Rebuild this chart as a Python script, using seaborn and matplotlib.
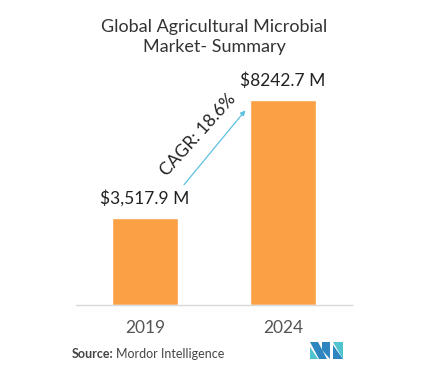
import matplotlib
matplotlib.use("Agg")
import matplotlib.pyplot as plt
import seaborn as sns
import pandas as pd
from matplotlib.patches import Polygon

years = ["2019", "2024"]
values = [3517.9, 8242.7]
value_labels = ["$3,517.9 M", "$8242.7 M"]
cagr_label = "CAGR: 18.6%"
title = "Global Agricultural Microbial\nMarket- Summary"

sns.set_theme(style="white")
plt.rcParams["font.family"] = ["Lato", "DejaVu Sans"]

df = pd.DataFrame({"year": years, "value": values})

fig = plt.figure(figsize=(4.29, 3.87), dpi=100)
ax = fig.add_axes([76/429, (387-305)/387, 276/429, 248.7/387])
sns.barplot(data=df, x="year", y="value", color="#FBA044", width=0.48,
            saturation=1, ax=ax)
ax.set_xlim(-0.5, 1.5)
ax.set_ylim(0, 10000)
ax.set_xlabel("")
ax.set_ylabel("")
ax.set_yticks([])
for s in ["top", "right", "left"]:
    ax.spines[s].set_visible(False)
ax.spines["bottom"].set_color("#d9d9d9")
ax.spines["bottom"].set_linewidth(1.0)
ax.tick_params(axis="x", length=0, pad=11, labelsize=12.5, labelcolor="#555555")

for i, (v, lab) in enumerate(zip(values, value_labels)):
    ax.text(i, v + 450, lab, ha="center", va="bottom", fontsize=12.5,
            color="#222222")

# CAGR arrow
ax.annotate("", xy=(0.74, values[1] * 0.96), xytext=(0.27, values[0] * 1.35),
            arrowprops=dict(arrowstyle="-|>", color="#5BC0DE", lw=0.9,
                            mutation_scale=7))
ax.text(0.385, 6850, cagr_label, rotation=48, ha="center", va="center",
        fontsize=12.5, color="#222222", rotation_mode="anchor")

fig.text(0.5, 1 - 37/387, title, ha="center", va="center", fontsize=13,
         color="#333333", linespacing=1.3)

fig.text(72/429, 1 - 354/387, "Source:", ha="left", va="center", fontsize=9,
         fontweight="bold", color="#444444")
fig.text(116/429, 1 - 354/387, "Mordor Intelligence", ha="left", va="center",
         fontsize=9, color="#444444")

# logo
def P(pts, c):
    fig.add_artist(Polygon([(x/429, 1 - y/387) for x, y in pts], closed=True,
                           transform=fig.transFigure, facecolor=c, edgecolor="none"))
P([(310, 342), (318, 342), (327, 359), (319, 359)], "#2E86C1")
P([(310, 347), (318, 359), (310, 359)], "#4FC3CF")
P([(322, 342), (330, 342), (330, 359), (322, 350)], "#2E86C1")
P([(333, 342), (343, 342), (343, 359)], "#4FC3CF")
P([(333, 345), (343, 359), (333, 359)], "#2E86C1")

fig.savefig("out.png", dpi=100)
